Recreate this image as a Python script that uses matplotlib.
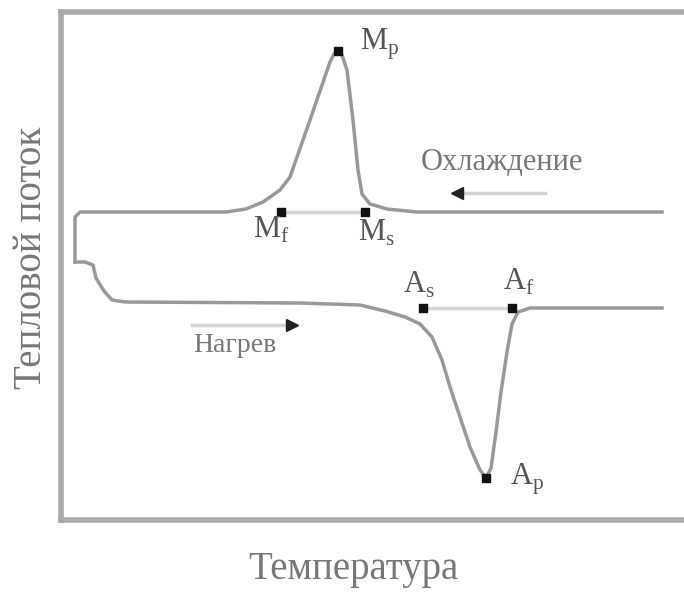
import matplotlib
matplotlib.use("Agg")
import matplotlib.pyplot as plt

# ---- data (arbitrary units: temperature on x, heat flow on y) ----
cool_T = [601, 356, 326, 309, 301, 297, 292, 286, 281, 277, 273, 269, 249, 229, 219, 202, 185, 165, 19, 14, 14]
cool_H = [308, 308, 311, 316, 326, 350, 400, 450, 465, 469, 466, 458, 400, 343, 330, 318, 311, 308, 308, 303, 258]

heat_T = [14, 24, 32, 35, 43, 51, 64, 239, 299, 324, 344, 359, 371, 381, 389, 399, 409, 419, 425,
          430, 435, 440, 446, 451, 457, 469, 601]
heat_H = [258, 258, 255, 242, 229, 220, 218, 217, 215, 209, 203, 196, 183, 160, 133, 103, 73, 50, 42,
          52, 88, 128, 168, 196, 208, 212, 212]

point_names = ["M", "M", "M", "A", "A", "A"]
point_subs = ["p", "f", "s", "s", "f", "p"]
point_T = [277, 220, 304, 362, 451, 425]
point_H = [469, 308, 308, 212, 212, 42]

cool_label = "Охлаждение"
heat_label = "Нагрев"
xlabel = "Температура"
ylabel = "Тепловой поток"

# ---- figure ----
plt.rcParams['font.family'] = ['Liberation Serif', 'DejaVu Serif']
plt.rcParams['mathtext.fontset'] = 'custom'
plt.rcParams['mathtext.rm'] = 'Liberation Serif'

W, H = 684, 593
fig = plt.figure(figsize=(W / 100, H / 100), dpi=100)
ax = fig.add_axes([61 / W, (H - 520) / H, (W - 61) / W, (520 - 12) / H])
ax.set_xlim(0, 623)
ax.set_ylim(0, 508)
ax.set_xticks([])
ax.set_yticks([])
ax.spines['right'].set_visible(False)
for s in ['left', 'top', 'bottom']:
    ax.spines[s].set_color('#aaaaaa')
    ax.spines[s].set_linewidth(4.0)

curve_col = '#999999'
light_col = '#d4d4d4'
text_col = '#555555'

# baseline extensions
ax.plot([point_T[1], point_T[2]], [point_H[1], point_H[2]], color=light_col, lw=2.5, zorder=1)
ax.plot([point_T[3], point_T[4]], [point_H[3], point_H[4]], color=light_col, lw=2.5, zorder=1)

ax.plot(cool_T, cool_H, color=curve_col, lw=2.5, solid_joinstyle='round', zorder=2)
ax.plot(heat_T, heat_H, color=curve_col, lw=2.5, solid_joinstyle='round', zorder=2)

ax.scatter(point_T, point_H, s=30, marker='s', color='#111111', zorder=3)

# labels of characteristic points
offsets = [(22, 1, 'baseline'), (-28, -3, 'top'), (-7, -6, 'top'),
           (-20, 15, 'baseline'), (-9, 18, 'baseline'), (24, -7, 'baseline')]
for n, sub, x, y, (dx, dy, va) in zip(point_names, point_subs, point_T, point_H, offsets):
    ax.text(x + dx, y + dy, n + r'$_{\mathregular{' + sub + '}}$', fontsize=22,
            color=text_col, ha='left', va=va)

# arrows
ax.plot([396, 484], [327, 327], color=light_col, lw=2.5)
ax.plot([396], [327], marker='<', ms=8, color='#222222')
ax.text(441, 357, cool_label, fontsize=22, color='#777777', ha='center', va='center')

ax.plot([131, 231], [195, 195], color=light_col, lw=2.5)
ax.plot([231], [195], marker='>', ms=8, color='#222222')
ax.text(174, 175, heat_label, fontsize=20, color='#777777', ha='center', va='center')

fig.text(353 / W, 1 - 570 / H, xlabel, fontsize=28, color='#777777', ha='center', va='center')
fig.text(32 / W, 1 - 258 / H, ylabel, fontsize=28, color='#777777', ha='center', va='center',
         rotation=90)

fig.savefig('out.png', dpi=100)
